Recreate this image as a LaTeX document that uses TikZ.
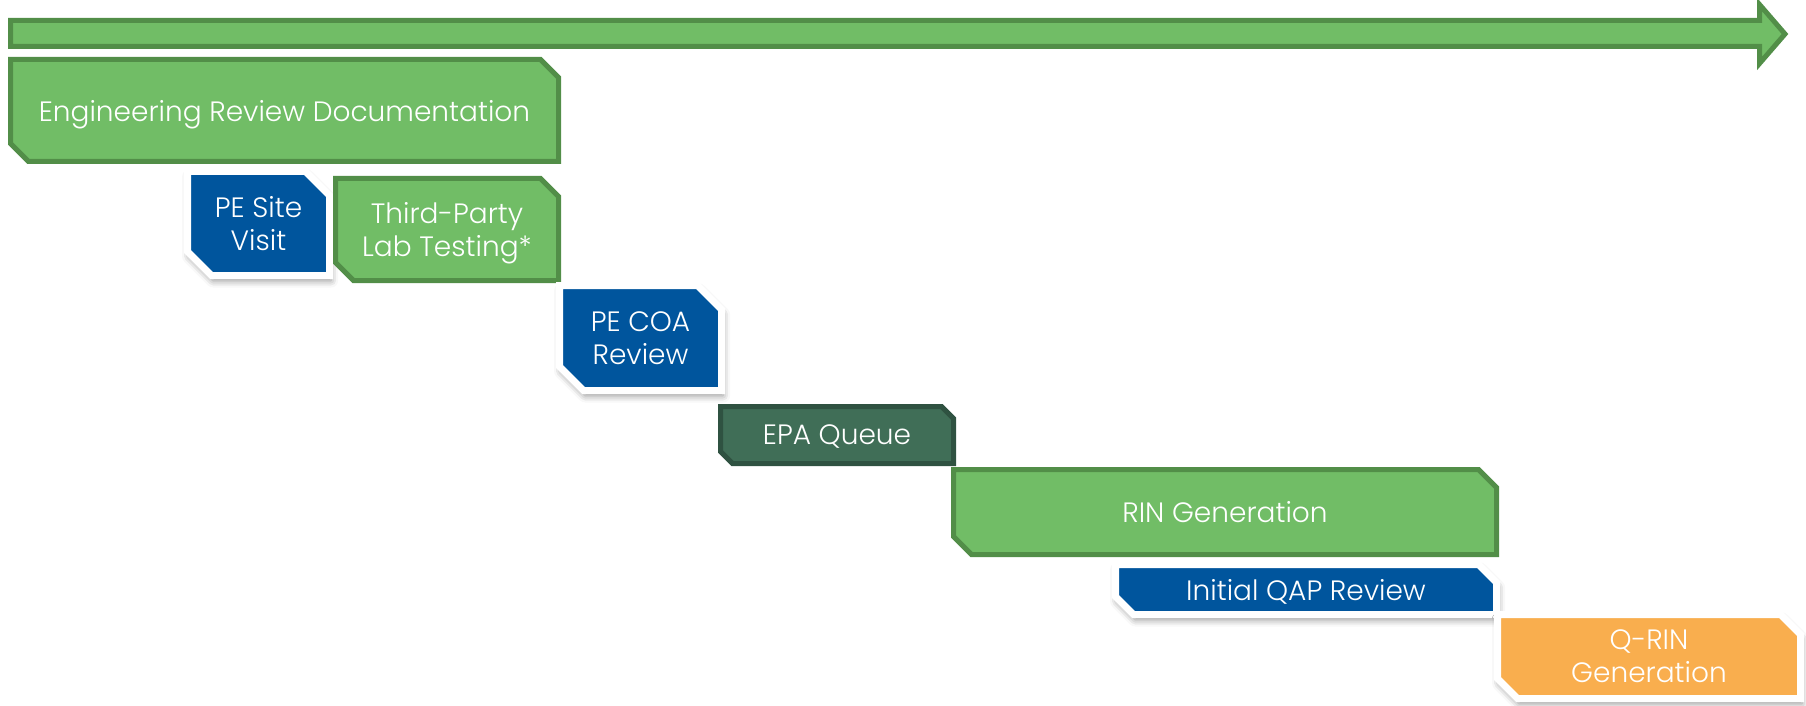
\documentclass[tikz,border=0pt]{standalone}
\usepackage{fontspec}
\setmainfont{Poppins Light}
\usetikzlibrary{shapes.misc,shadows.blur}

\definecolor{barfill}{HTML}{71BD66}
\definecolor{barline}{HTML}{528E48}
\definecolor{peblue}{HTML}{00559D}
\definecolor{queuefill}{HTML}{406E57}
\definecolor{queueline}{HTML}{2F5241}
\definecolor{qrinorange}{HTML}{F9AE4E}

\begin{document}
\begin{tikzpicture}[x = 0.5pt, y = -0.5pt,
  box/.style = {chamfered rectangle, chamfered rectangle corners = {north east, south west},
    text = white, align = center, inner sep = 0pt, outer sep = 0pt, text depth = 0pt,
    font = \fontsize{14}{16.5}\selectfont},
  greenbox/.style = {box, fill = barfill, draw = barline, line width = 2.5pt,
    chamfered rectangle xsep = 4.5pt, chamfered rectangle ysep = 4.5pt},
  queuebox/.style = {box, fill = queuefill, draw = queueline, line width = 2.5pt,
    chamfered rectangle xsep = 3pt, chamfered rectangle ysep = 3pt},
  whitebox/.style = {box, draw = white, line width = 3.5pt,
    blur shadow = {shadow xshift = 0.8pt, shadow yshift = -2.5pt,
      shadow blur radius = 3.5pt, shadow opacity = 45},
    chamfered rectangle xsep = 6pt, chamfered rectangle ysep = 6pt},
  bluebox/.style = {whitebox, fill = peblue},
  orangebox/.style = {whitebox, fill = qrinorange}]

\useasboundingbox (0, 0) rectangle (1806, 706);

% time line
\draw[fill = barfill, draw = barline, line width = 2.5pt, line join = miter]
  (10.5, 20.5) -- (1759.5, 20.5) -- (1759.5, 4.5) -- (1785, 34)
  -- (1759.5, 63.5) -- (1759.5, 46.5) -- (10.5, 46.5) -- cycle;

% steps
\node[greenbox, minimum width = 274pt, minimum height = 51pt] (erd)
  at (284.5, 110.5) {Engineering Review Documentation};
\node[bluebox, minimum width = 71pt, minimum height = 52pt] (sitevisit)
  at (258.5, 223.5) {PE Site\\Visit};
\node[greenbox, minimum width = 111.5pt, minimum height = 51pt] (labtest)
  at (447, 229.5) {Third-Party\\Lab Testing*};
\node[bluebox, minimum width = 81pt, minimum height = 52.5pt] (coa)
  at (640.5, 338) {PE COA\\Review};
\node[queuebox, minimum width = 116.5pt, minimum height = 28.5pt] (epaqueue)
  at (837, 435) {EPA Queue};
\node[greenbox, minimum width = 271.5pt, minimum height = 42.5pt] (rin)
  at (1225, 512) {RIN Generation};
\node[bluebox, minimum width = 190.5pt, minimum height = 25pt,
  chamfered rectangle xsep = 4.5pt, chamfered rectangle ysep = 4.5pt] (qap)
  at (1306, 589.5) {Initial QAP Review};
\node[orangebox, minimum width = 151.5pt, minimum height = 42pt,
  chamfered rectangle xsep = 5pt, chamfered rectangle ysep = 5pt] (qrin)
  at (1649, 656.5) {Q-RIN\\Generation};

\end{tikzpicture}
\end{document}
